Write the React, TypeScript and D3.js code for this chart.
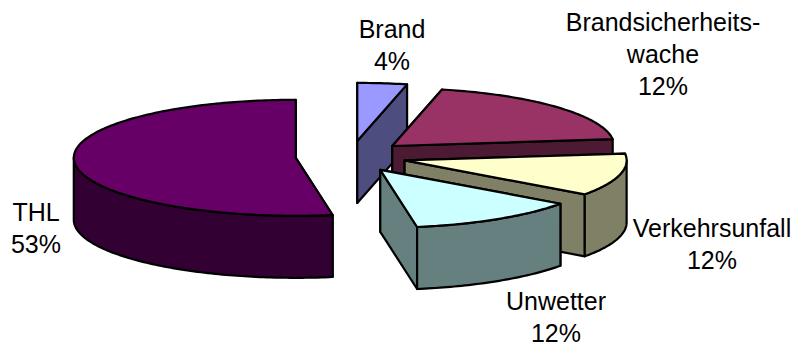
import React from "react";
import * as d3 from "d3";

// Einsatzarten, clockwise from twelve o'clock.
const categories = ["Brand", "Brandsicherheitswache", "Verkehrsunfall", "Unwetter", "THL"];
// Wedge sizes in percent, as the wedges themselves measure.
const sliceValues = [3.6, 19.5, 11.8, 12.4, 52.6];
// Printed percentages. The Brandsicherheitswache label says 12 although its wedge is about 19.
const printedPercent = [4, 12, 12, 12, 53];
const labelLines = [["Brand"], ["Brandsicherheits-", "wache"], ["Verkehrsunfall"], ["Unwetter"], ["THL"]];
const topColors = ["#9999ff", "#993366", "#ffffcc", "#ccffff", "#660066"];
const sideColors = ["#4d4d80", "#4d1a33", "#808066", "#668080", "#330033"];

const WIDTH = 794;
const HEIGHT = 343;
const CENTER = { x: 351, y: 156.5 };
const RX = 222;
const RY = 58;
const DEPTH = 62;
const EXPLODE = { x: 55.4, y: 15.7 };
const LINE_STEP = 32;
const labelAnchors = [
  { x: 392, y: 38 },
  { x: 663, y: 31 },
  { x: 712, y: 237 },
  { x: 556, y: 310 },
  { x: 36, y: 221 },
];

type Pt = [number, number];

const pieLayout = d3.pie<number>().sort(null).startAngle(0).endAngle(2 * Math.PI);
const toPath = d3.line<Pt>();

// Walks the rim of a tilted circle between two clockwise angles.
function rim(cx: number, cy: number, a0: number, a1: number): Pt[] {
  const n = Math.max(1, Math.ceil(Math.abs(a1 - a0) / (Math.PI / 180)));
  return d3.range(n + 1).map((i) => {
    const a = a0 + ((a1 - a0) * i) / n;
    return [cx + RX * Math.sin(a), cy - RY * Math.cos(a)] as Pt;
  });
}

function wall(apex: Pt, edge: Pt): string {
  return (
    toPath([apex, edge, [edge[0], edge[1] + DEPTH], [apex[0], apex[1] + DEPTH]]) + "Z"
  );
}

export default function App() {
  const arcs = pieLayout(sliceValues);
  // Painted back to front so nearer wedges cover farther ones.
  const paintOrder = [0, 1, 2, 4, 3];
  return (
    <svg
      width={WIDTH}
      height={HEIGHT}
      viewBox={`0 0 ${WIDTH} ${HEIGHT}`}
      style={{ position: "absolute", left: 0, top: 0, background: "#fff" }}
    >
      <g stroke="#000" strokeWidth={2.2} strokeLinejoin="round">
        {paintOrder.map((i) => {
          const { startAngle: a0, endAngle: a1 } = arcs[i];
          const mid = (a0 + a1) / 2;
          const cx = CENTER.x + EXPLODE.x * Math.sin(mid);
          const cy = CENTER.y - EXPLODE.y * Math.cos(mid);
          const apex: Pt = [cx, cy];
          const ring = rim(cx, cy, a0, a1);
          // Only the part of the outer wall facing the viewer is drawn.
          const f0 = Math.max(a0, Math.PI / 2);
          const f1 = Math.min(a1, (3 * Math.PI) / 2);
          let outer: string | null = null;
          if (f1 > f0) {
            const upper = rim(cx, cy, f0, f1);
            const lower = upper.map(([x, y]) => [x, y + DEPTH] as Pt).reverse();
            outer = toPath([...upper, ...lower]) + "Z";
          }
          return (
            <g key={categories[i]}>
              <path d={wall(apex, ring[0])} fill={sideColors[i]} />
              <path d={wall(apex, ring[ring.length - 1])} fill={sideColors[i]} />
              {outer && <path d={outer} fill={sideColors[i]} />}
              <path d={toPath([apex, ...ring]) + "Z"} fill={topColors[i]} />
            </g>
          );
        })}
      </g>
      <g fontFamily="'Liberation Sans', Arial, sans-serif" fontSize={25} fill="#000" textAnchor="middle">
        {categories.map((name, i) => (
          <text key={name} x={labelAnchors[i].x} y={labelAnchors[i].y}>
            {[...labelLines[i], `${printedPercent[i]}%`].map((line, j) => (
              <tspan key={j} x={labelAnchors[i].x} dy={j === 0 ? 0 : LINE_STEP}>
                {line}
              </tspan>
            ))}
          </text>
        ))}
      </g>
    </svg>
  );
}
